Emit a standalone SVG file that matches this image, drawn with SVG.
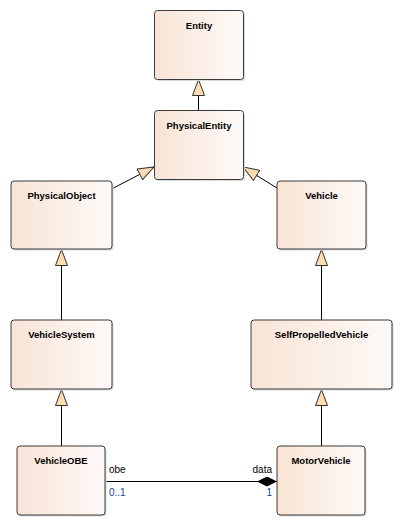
<svg xmlns="http://www.w3.org/2000/svg" width="403" height="526" viewBox="0 0 403 526">
<style>
.box{fill:url(#g);stroke:#3a3a3a;stroke-width:1}
.sh{fill:#d9d9d9}
.t{font-family:"Liberation Sans",Arial,sans-serif;font-weight:bold;font-size:9.5px;fill:#000;text-anchor:middle}
.c{stroke:#000;stroke-width:1;fill:none}
.lbl{font-family:"Liberation Sans",Arial,sans-serif;font-size:10px}
</style>
<defs>
<linearGradient id="g" x1="0" y1="0" x2="1" y2="0">
<stop offset="0" stop-color="#f8e4d6"/>
<stop offset="1" stop-color="#fefaf8"/>
</linearGradient>
<marker id="gen" viewBox="0 0 17 13" refX="16.5" refY="6.5" markerWidth="17" markerHeight="13" markerUnits="userSpaceOnUse" orient="auto">
<path d="M0.5,0.5 L16.5,6.5 L0.5,12.5 Z" fill="#fbdcb0" stroke="#333" stroke-width="1"/>
</marker>
<marker id="dia" viewBox="0 0 20 10" refX="20" refY="5" markerWidth="20" markerHeight="10" markerUnits="userSpaceOnUse" orient="auto">
<path d="M0,5 L10,0 L20,5 L10,10 Z" fill="#000"/>
</marker>
</defs>
<g id="connectors">
<line class="c" x1="198.5" y1="110" x2="198.5" y2="79.5" marker-end="url(#gen)"/>
<line class="c" x1="111.5" y1="189" x2="154" y2="167" marker-end="url(#gen)"/>
<line class="c" x1="277" y1="188" x2="243" y2="167" marker-end="url(#gen)"/>
<line class="c" x1="61.5" y1="320" x2="61.5" y2="249.5" marker-end="url(#gen)"/>
<line class="c" x1="321.5" y1="320" x2="321.5" y2="249.5" marker-end="url(#gen)"/>
<line class="c" x1="61.5" y1="446" x2="61.5" y2="389.5" marker-end="url(#gen)"/>
<line class="c" x1="321.5" y1="446" x2="321.5" y2="389.5" marker-end="url(#gen)"/>
<line class="c" x1="105" y1="481.5" x2="277" y2="481.5" marker-end="url(#dia)"/>
<text class="lbl" x="109" y="473" fill="#000">obe</text>
<text class="lbl" x="109" y="496" fill="#1c3d8c">0..1</text>
<text class="lbl" x="272" y="473" fill="#000" text-anchor="end">data</text>
<text class="lbl" x="272" y="496" fill="#1c3d8c" text-anchor="end">1</text>
</g>
<g id="Entity">
<rect class="sh" x="156" y="12" width="89" height="69" rx="3"/>
<rect class="box" x="154.5" y="10.5" width="89" height="69" rx="3"/>
<text class="t" x="199" y="28.5">Entity</text>
</g>
<g id="PhysicalEntity">
<rect class="sh" x="156" y="112" width="89" height="69" rx="3"/>
<rect class="box" x="154.5" y="110.5" width="89" height="69" rx="3"/>
<text class="t" x="199" y="128.5">PhysicalEntity</text>
</g>
<g id="PhysicalObject">
<rect class="sh" x="12.5" y="182.5" width="101" height="68" rx="3"/>
<rect class="box" x="11" y="181" width="101" height="68" rx="3"/>
<text class="t" x="61.5" y="198.5">PhysicalObject</text>
</g>
<g id="Vehicle">
<rect class="sh" x="278.5" y="182.5" width="89" height="68" rx="3"/>
<rect class="box" x="277" y="181" width="89" height="68" rx="3"/>
<text class="t" x="321.5" y="198.5">Vehicle</text>
</g>
<g id="VehicleSystem">
<rect class="sh" x="12.5" y="321.5" width="101" height="69" rx="3"/>
<rect class="box" x="11" y="320" width="101" height="69" rx="3"/>
<text class="t" x="61.5" y="338">VehicleSystem</text>
</g>
<g id="SelfPropelledVehicle">
<rect class="sh" x="252.5" y="321.5" width="141" height="69" rx="3"/>
<rect class="box" x="251" y="320" width="141" height="69" rx="3"/>
<text class="t" x="321.5" y="338">SelfPropelledVehicle</text>
</g>
<g id="VehicleOBE">
<rect class="sh" x="18.5" y="447.5" width="88" height="69" rx="3"/>
<rect class="box" x="17" y="446" width="88" height="69" rx="3"/>
<text class="t" x="61" y="464">VehicleOBE</text>
</g>
<g id="MotorVehicle">
<rect class="sh" x="278.5" y="447.5" width="88" height="69" rx="3"/>
<rect class="box" x="277" y="446" width="88" height="69" rx="3"/>
<text class="t" x="321" y="464">MotorVehicle</text>
</g>
</svg>
